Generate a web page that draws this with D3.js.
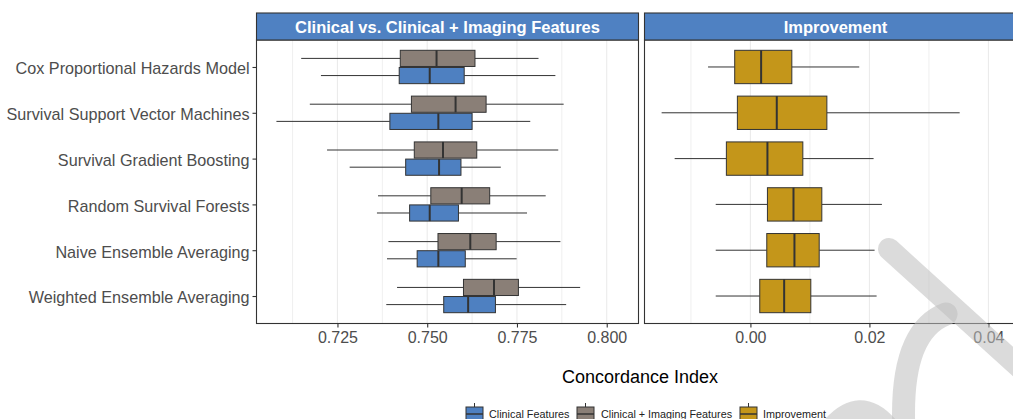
<!DOCTYPE html>
<html>
<head>
<meta charset="utf-8">
<script src="https://cdn.jsdelivr.net/npm/d3@7"></script>
<style>
  html, body { margin: 0; padding: 0; background: #ffffff; }
  svg { display: block; }
  text { font-family: "Liberation Sans", Arial, sans-serif; }
</style>
</head>
<body>
<svg id="chart" width="1013" height="419"></svg>
<script>
// Models compared (top to bottom)
const categories = [
  "Cox Proportional Hazards Model",
  "Survival Support Vector Machines",
  "Survival Gradient Boosting",
  "Random Survival Forests",
  "Naive Ensemble Averaging",
  "Weighted Ensemble Averaging"
];

// Concordance index summaries: [lower whisker, Q1, median, Q3, upper whisker]
const clinicalStats = [
  [0.7204, 0.7422, 0.7507, 0.7603, 0.7857],
  [0.7080, 0.7396, 0.7531, 0.7625, 0.7787],
  [0.7284, 0.7440, 0.7533, 0.7594, 0.7705],
  [0.7360, 0.7451, 0.7507, 0.7587, 0.7778],
  [0.7388, 0.7472, 0.7531, 0.7606, 0.7749],
  [0.7386, 0.7546, 0.7614, 0.7690, 0.7887]
];
const imagingStats = [
  [0.7149, 0.7425, 0.7526, 0.7633, 0.7810],
  [0.7173, 0.7456, 0.7579, 0.7664, 0.7880],
  [0.7221, 0.7464, 0.7544, 0.7638, 0.7865],
  [0.7363, 0.7510, 0.7596, 0.7674, 0.7830],
  [0.7392, 0.7530, 0.7620, 0.7692, 0.7871],
  [0.7416, 0.7601, 0.7686, 0.7754, 0.7926]
];
// Gain in concordance index from adding imaging features
const improvementStats = [
  [-0.00712, -0.00264, 0.00180, 0.00696, 0.01829],
  [-0.01492, -0.00219, 0.00443, 0.01285, 0.03517],
  [-0.01273, -0.00404, 0.00286, 0.00881, 0.02070],
  [-0.00583, 0.00286, 0.00724, 0.01200, 0.02210],
  [-0.00583, 0.00275, 0.00740, 0.01156, 0.02087],
  [-0.00583, 0.00157, 0.00567, 0.01015, 0.02121]
];

const leftTicks = [0.725, 0.750, 0.775, 0.800];
const leftMinor = [0.7125, 0.7375, 0.7625, 0.7875];
const rightTicks = [0.00, 0.02, 0.04];
const rightMinor = [-0.01, 0.01, 0.03];

const stripTitles = ["Clinical vs. Clinical + Imaging Features", "Improvement"];
const seriesNames = ["Clinical Features", "Clinical + Imaging Features", "Improvement"];
const seriesColors = ["#4E80C1", "#8A7F77", "#C4961A"];

const axisTitle = "Concordance Index";

const svg = d3.select("#chart");

const panelTop = 40, panelBottom = 323.5, stripTop = 13;
const leftPanel = { x0: 256.5, x1: 638.5 };
const rightPanel = { x0: 644.5, x1: 1026.5 };

const xLeft = d3.scaleLinear().domain([0.70245, 0.80885]).range([leftPanel.x0, leftPanel.x1]);
const xRight = d3.scaleLinear().domain([-0.0178, 0.0464]).range([rightPanel.x0, rightPanel.x1]);

const y = d3.scalePoint().domain(categories).range([panelTop - 0.5, panelBottom]).padding(0.6);
const step = y.step();
const dodge = step * 0.75;      // width of dodged group
const half = dodge / 2;

const ink = "#333333";
const gridColor = "#EBEBEB";

// panel backgrounds + grid
function drawPanel(p, scale, ticks, minor) {
  const g = svg.append("g");
  g.append("rect").attr("x", p.x0).attr("y", panelTop).attr("width", p.x1 - p.x0)
    .attr("height", panelBottom - panelTop).attr("fill", "#ffffff");
  g.selectAll("line.minor").data(minor).join("line")
    .attr("x1", d => scale(d)).attr("x2", d => scale(d))
    .attr("y1", panelTop).attr("y2", panelBottom)
    .attr("stroke", gridColor).attr("stroke-width", 0.8);
  g.selectAll("line.major").data(ticks).join("line")
    .attr("x1", d => scale(d)).attr("x2", d => scale(d))
    .attr("y1", panelTop).attr("y2", panelBottom)
    .attr("stroke", gridColor).attr("stroke-width", 1.1);
  return g;
}

const gLeft = drawPanel(leftPanel, xLeft, leftTicks, leftMinor);
const gRight = drawPanel(rightPanel, xRight, rightTicks, rightMinor);

function drawBox(g, scale, s, cy, h, fill) {
  const [lo, q1, med, q3, hi] = s;
  g.append("line").attr("x1", scale(lo)).attr("x2", scale(q1)).attr("y1", cy).attr("y2", cy)
    .attr("stroke", ink).attr("stroke-width", 1);
  g.append("line").attr("x1", scale(q3)).attr("x2", scale(hi)).attr("y1", cy).attr("y2", cy)
    .attr("stroke", ink).attr("stroke-width", 1);
  g.append("rect").attr("x", scale(q1)).attr("y", cy - h / 2)
    .attr("width", scale(q3) - scale(q1)).attr("height", h)
    .attr("fill", fill).attr("stroke", ink).attr("stroke-width", 1);
  g.append("line").attr("x1", scale(med)).attr("x2", scale(med))
    .attr("y1", cy - h / 2).attr("y2", cy + h / 2)
    .attr("stroke", ink).attr("stroke-width", 2);
}

categories.forEach((c, i) => {
  const cy = y(c);
  // upper slot: clinical + imaging, lower slot: clinical only
  drawBox(gLeft, xLeft, imagingStats[i], cy - half / 2, half - 1, seriesColors[1]);
  drawBox(gLeft, xLeft, clinicalStats[i], cy + half / 2, half - 1, seriesColors[0]);
  drawBox(gRight, xRight, improvementStats[i], cy, dodge - 1, seriesColors[2]);
});

// panel borders
[leftPanel, rightPanel].forEach(p => {
  svg.append("rect").attr("x", p.x0).attr("y", panelTop).attr("width", p.x1 - p.x0)
    .attr("height", panelBottom - panelTop).attr("fill", "none")
    .attr("stroke", ink).attr("stroke-width", 1.1);
});

// strips
[leftPanel, rightPanel].forEach((p, i) => {
  svg.append("rect").attr("x", p.x0).attr("y", stripTop).attr("width", p.x1 - p.x0)
    .attr("height", panelTop - stripTop).attr("fill", "#4F81C2")
    .attr("stroke", ink).attr("stroke-width", 1.1);
  svg.append("text").attr("x", (p.x0 + p.x1) / 2).attr("y", (stripTop + panelTop) / 2 + 0.5)
    .attr("text-anchor", "middle").attr("dominant-baseline", "central")
    .attr("fill", "#ffffff").attr("font-weight", "bold").attr("font-size", 16.5)
    .text(stripTitles[i]);
});

// x axes
function drawXAxis(scale, ticks, fmt) {
  const ax = d3.axisBottom(scale).tickValues(ticks).tickFormat(fmt).tickSizeInner(4).tickSizeOuter(0).tickPadding(4);
  const g = svg.append("g").attr("transform", `translate(0,${panelBottom})`).call(ax);
  g.select(".domain").remove();
  g.selectAll(".tick line").attr("stroke", ink).attr("stroke-width", 1.1);
  g.selectAll(".tick text").attr("fill", "#4D4D4D").attr("font-size", 16)
    .attr("font-family", "'Liberation Sans', Arial, sans-serif");
}
drawXAxis(xLeft, leftTicks, d3.format(".3f"));
drawXAxis(xRight, rightTicks, d3.format(".2f"));

// y axis
const yAx = d3.axisLeft(y).tickSizeInner(4).tickSizeOuter(0).tickPadding(3);
const gy = svg.append("g").attr("transform", `translate(${leftPanel.x0},0)`).call(yAx);
gy.select(".domain").remove();
gy.selectAll(".tick line").attr("stroke", ink).attr("stroke-width", 1.1);
gy.selectAll(".tick text").attr("fill", "#4D4D4D").attr("font-size", 16.2)
  .attr("dy", "0.42em")
  .attr("font-family", "'Liberation Sans', Arial, sans-serif");

// axis title
svg.append("text").attr("x", 640).attr("y", 377)
  .attr("text-anchor", "middle").attr("dominant-baseline", "central")
  .attr("fill", "#000000").attr("font-size", 18).text(axisTitle);

// legend
const legendX = [466, 577, 740];
const legendTextX = [489, 601, 763];
const keyW = 17, keyTop = 407, legendY = 413.5;
seriesNames.forEach((name, i) => {
  const g = svg.append("g");
  const kx = legendX[i];
  g.append("line").attr("x1", kx + keyW / 2).attr("x2", kx + keyW / 2)
    .attr("y1", keyTop - 4).attr("y2", keyTop).attr("stroke", ink).attr("stroke-width", 1);
  g.append("rect").attr("x", kx).attr("y", keyTop).attr("width", keyW).attr("height", 16)
    .attr("fill", seriesColors[i]).attr("stroke", ink).attr("stroke-width", 1);
  g.append("line").attr("x1", kx).attr("x2", kx + keyW).attr("y1", keyTop + 7).attr("y2", keyTop + 7)
    .attr("stroke", ink).attr("stroke-width", 1.5);
  g.append("text").attr("x", legendTextX[i]).attr("y", legendY)
    .attr("dominant-baseline", "central").attr("fill", "#222222").attr("font-size", 10.8)
    .text(name);
});

// light diagonal overlay mark in the lower right corner
const mark = svg.append("g").attr("fill", "none").attr("stroke", "#BDBDBD")
  .attr("stroke-opacity", 0.55).attr("stroke-linecap", "round");
mark.append("path").attr("d", "M889,249 L1040,386").attr("stroke-width", 22);
mark.append("path").attr("d", "M904,432 Q899,332 946,314").attr("stroke-width", 23);
mark.append("path").attr("d", "M818,448 Q860,376 900,445").attr("stroke-width", 22);
</script>
</body>
</html>
